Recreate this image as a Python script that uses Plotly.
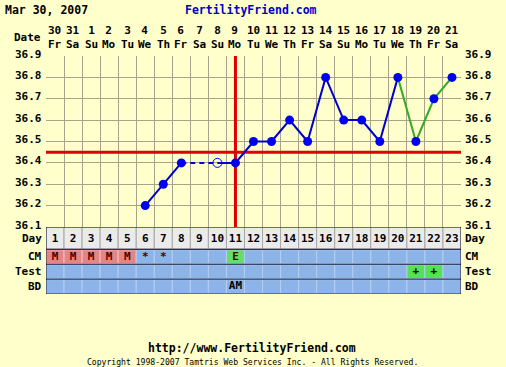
import plotly.graph_objects as go

# ---------------- data ----------------
days = list(range(1, 24))
dates = ["30", "31", "1", "2", "3", "4", "5", "6", "7", "8", "9", "10",
         "11", "12", "13", "14", "15", "16", "17", "18", "19", "20", "21"]
weekdays = ["Fr", "Sa", "Su", "Mo", "Tu", "We", "Th", "Fr", "Sa", "Su", "Mo", "Tu",
            "We", "Th", "Fr", "Sa", "Su", "Mo", "Tu", "We", "Th", "Fr", "Sa"]
temps = [None, None, None, None, None, 36.2, 36.3, 36.4, None, 36.4, 36.4, 36.5,
         36.5, 36.6, 36.5, 36.8, 36.6, 36.6, 36.5, 36.8, 36.5, 36.7, 36.8]
open_days = [10]
coverline = 36.45
ovulation_day = 11
alt_line_from_day = 20
temp_ticks = [36.1, 36.2, 36.3, 36.4, 36.5, 36.6, 36.7, 36.8, 36.9]
temp_tick_labels = ["36.1", "36.2", "36.3", "36.4", "36.5", "36.6", "36.7", "36.8", "36.9"]
cm = ["M", "M", "M", "M", "M", "*", "*", "", "", "", "E", "", "", "", "", "", "", "", "", "", "", "", ""]
test = ["", "", "", "", "", "", "", "", "", "", "", "", "", "", "", "", "", "", "", "", "+", "+", ""]
bd = ["", "", "", "", "", "", "", "", "", "", "AM", "", "", "", "", "", "", "", "", "", "", "", ""]
row_names = ["Day", "CM", "Test", "BD"]
chart_date = "Mar 30, 2007"
site = "FertilityFriend.com"
footer_url = "http://www.FertilityFriend.com"
footer_copy = "Copyright 1998-2007 Tamtris Web Services Inc. - All Rights Reserved."

# ---------------- geometry / style ----------------
W, H = 506, 367
PX_L, PX_R = 46, 461
PY_TOP, PY_BOT = 56, 227
TB_BOT = 294
FONT = "DejaVu Sans Mono"
BG = "#FFFFCC"
GRID = "#A8A48C"
BLUE_LINE = "#0000CC"
BLUE_MK = "#0000EE"
GREEN = "#33AA22"
RED = "#E00000"


def fx(px):
    return px / W


def fy(py):
    return (H - py) / H


def bfont(size, color="#000000"):
    return dict(family=FONT, size=size, color=color, weight="bold")


fig = go.Figure()

# solid blue line up to the switch day (gaps break it)
sx = [d for d in days if d <= alt_line_from_day]
sy = [t for d, t in zip(days, temps) if d <= alt_line_from_day]
fig.add_trace(go.Scatter(x=sx, y=sy, mode="lines", connectgaps=False,
                         line=dict(color=BLUE_LINE, width=2), hoverinfo="skip"))

# dashed bridges across missing days
measured = [(d, t) for d, t in zip(days, temps) if t is not None]
dx, dy = [], []
for (a, ta), (b, tb) in zip(measured[:-1], measured[1:]):
    if b - a > 1:
        dx += [a, b, None]
        dy += [ta, tb, None]
fig.add_trace(go.Scatter(x=dx, y=dy, mode="lines",
                         line=dict(color=BLUE_LINE, width=2, dash="5px,4px"), hoverinfo="skip"))

# green segment
gx = [d for d in days if d >= alt_line_from_day]
gy = [t for d, t in zip(days, temps) if d >= alt_line_from_day]
fig.add_trace(go.Scatter(x=gx, y=gy, mode="lines",
                         line=dict(color=GREEN, width=2), hoverinfo="skip"))

# markers
fx_ = [d for d, t in measured if d not in open_days]
fy_ = [t for d, t in measured if d not in open_days]
fig.add_trace(go.Scatter(x=fx_, y=fy_, mode="markers",
                         marker=dict(color=BLUE_MK, size=9, line=dict(width=0)), hoverinfo="skip"))
ox = [d for d, t in measured if d in open_days]
oy = [t for d, t in measured if d in open_days]
fig.add_trace(go.Scatter(x=ox, y=oy, mode="markers",
                         marker=dict(symbol="circle-open", color=BLUE_MK, size=9, line=dict(width=1)),
                         hoverinfo="skip"))

# ---------------- table (y2) ----------------
row_bounds = [(0, 22), (23, 37), (38, 52), (53, 67)]
row_text_y = [12, 30, 45, 60]
row_vals = [[str(d) for d in days], cm, test, bd]
cell_color = {"M": "#E48484", "E": "#66DD66", "+": "#55E055"}
BLUE_CELL = "#8DB4E8"
shapes = []
for r, (y0, y1) in enumerate(row_bounds):
    for i, d in enumerate(days):
        if r == 0:
            fill, edge = "#EBEBEB", "#A8A8A8"
        else:
            v = row_vals[r][i]
            fill = cell_color.get(v, BLUE_CELL)
            edge = {"#E48484": "#F4C0C0"}.get(fill, "#B4CFF2")
        shapes.append(dict(type="rect", xref="x", yref="y2", x0=d - 0.5, x1=d + 0.5, y0=y0, y1=y1,
                           fillcolor=fill, line=dict(color=edge, width=1), layer="between"))
for yy in [0, 22.5, 37.5, 52.5, 67.5]:
    shapes.append(dict(type="line", xref="x", yref="y2", x0=days[0] - 0.5, x1=days[-1] + 0.5,
                       y0=yy, y1=yy, line=dict(color="#101030", width=1), layer="between"))
for xx in [days[0] - 0.5, days[-1] + 0.5]:
    shapes.append(dict(type="line", xref="x", yref="y2", x0=xx, x1=xx, y0=0, y1=67.5,
                       line=dict(color="#101030", width=1), layer="between"))

# red coverline and ovulation line
shapes.append(dict(type="line", xref="x", yref="y", x0=days[0] - 0.5, x1=days[-1] + 0.5,
                   y0=coverline, y1=coverline, line=dict(color=RED, width=3), layer="between"))
shapes.append(dict(type="line", xref="x", yref="y", x0=ovulation_day, x1=ovulation_day,
                   y0=temp_ticks[0], y1=temp_ticks[-1], line=dict(color=RED, width=3), layer="between"))

# table text
for r in range(len(row_bounds)):
    fig.add_trace(go.Scatter(x=days, y=[row_text_y[r]] * len(days), yaxis="y2", mode="text",
                             text=row_vals[r], textposition="middle center",
                             textfont=bfont(11, "#000000" if r != 1 else "#4A0000"),
                             hoverinfo="skip", cliponaxis=False))

annotations = []
# temperature labels on both sides
for v, lab in zip(temp_ticks, temp_tick_labels):
    for xpos, anc in [(PX_L - 3, "right"), (PX_R + 3, "left")]:
        annotations.append(dict(xref="paper", yref="y", x=fx(xpos), y=v, text=lab, showarrow=False,
                                xanchor=anc, yanchor="middle", borderpad=0, yshift=2, font=bfont(11)))
# row labels on both sides
for ty, name in zip(row_text_y, row_names):
    for xpos, anc in [(PX_L - 3, "right"), (PX_R + 3, "left")]:
        annotations.append(dict(xref="paper", yref="y2", x=fx(xpos), y=ty, text=name, showarrow=False,
                                xanchor=anc, yanchor="middle", borderpad=0, font=bfont(11)))
# date rows (number over weekday)
for d, dt, wd in zip(days, dates, weekdays):
    annotations.append(dict(xref="x", yref="paper", x=d, y=fy(37), text=dt + "<br>" + wd, showarrow=False,
                            xanchor="center", yanchor="middle", borderpad=0, font=bfont(11)))
annotations.append(dict(xref="paper", yref="paper", x=fx(PX_L - 3), y=fy(38), text="Date", showarrow=False,
                        xanchor="right", yanchor="middle", font=bfont(11)))
# header / footer
annotations.append(dict(xref="paper", yref="paper", x=fx(3), y=fy(10), text=chart_date, showarrow=False,
                        xanchor="left", yanchor="middle", font=bfont(11.5)))
annotations.append(dict(xref="paper", yref="paper", x=fx(251), y=fy(10), text=site, showarrow=False,
                        xanchor="center", yanchor="middle", font=bfont(11.5, "#0000CC")))
annotations.append(dict(xref="paper", yref="paper", x=fx(252), y=fy(348), text=footer_url, showarrow=False,
                        xanchor="center", yanchor="middle", font=bfont(11.5)))
annotations.append(dict(xref="paper", yref="paper", x=fx(252), y=fy(362), text=footer_copy, showarrow=False,
                        xanchor="center", yanchor="middle", font=dict(family=FONT, size=8.1, color="#000000")))

fig.update_layout(
    width=W, height=H, autosize=False,
    margin=dict(l=0, r=0, t=0, b=0, pad=0, autoexpand=False),
    paper_bgcolor=BG, plot_bgcolor=BG,
    showlegend=False,
    xaxis=dict(domain=[fx(PX_L), fx(PX_R)], range=[days[0] - 0.5, days[-1] + 0.5],
               tickvals=[d - 0.5 for d in days] + [days[-1] + 0.5], showticklabels=False, ticks="",
               showgrid=True, gridcolor=GRID, gridwidth=1, zeroline=False, automargin=False,
               showline=False, fixedrange=True),
    yaxis=dict(domain=[fy(PY_BOT), fy(PY_TOP)], range=[temp_ticks[0], temp_ticks[-1]],
               tickvals=temp_ticks, showticklabels=False, ticks="",
               showgrid=True, gridcolor=GRID, gridwidth=1, zeroline=False,
               showline=False, fixedrange=True, automargin=False),
    yaxis2=dict(domain=[fy(TB_BOT), fy(PY_BOT)], range=[67.5, 0], anchor="x", automargin=False,
                showticklabels=False, showgrid=False, zeroline=False, ticks="", fixedrange=True),
    shapes=shapes,
    annotations=annotations,
)

fig.write_html("out.html",
               post_script="document.body.style.margin='0px';document.documentElement.style.overflow='hidden';",
               config={"displayModeBar": False})
